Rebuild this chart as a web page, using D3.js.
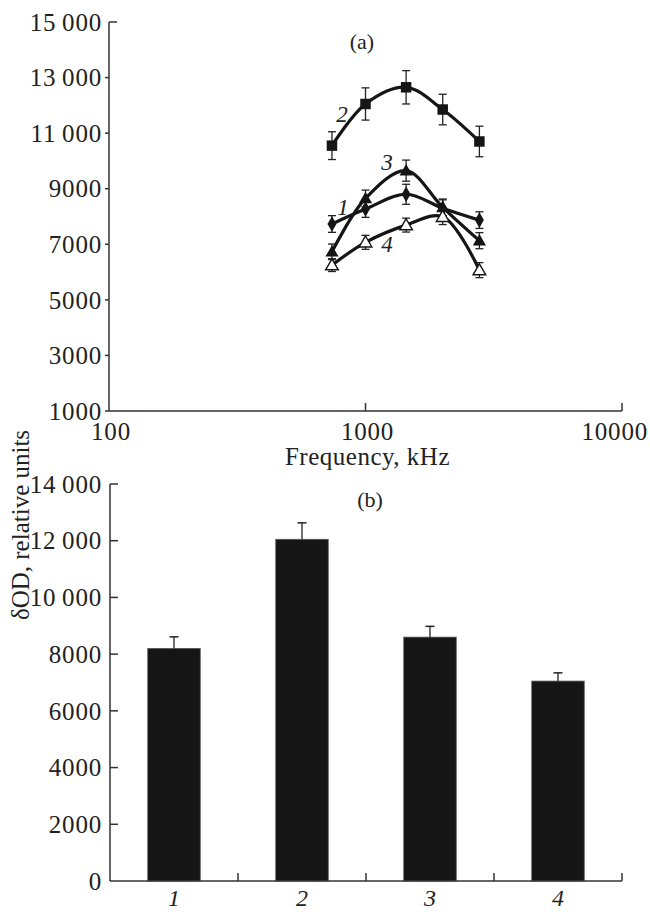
<!DOCTYPE html>
<html>
<head>
<meta charset="utf-8">
<script src="https://cdn.jsdelivr.net/npm/d3@7"></script>
<style>
  body { margin: 0; background: #fff; }
  svg text { font-family: "Liberation Serif", "Times New Roman", serif; fill: #222; }
</style>
</head>
<body>
<div id="chart"></div>
<script>
// panel (a): frequency dependence, 4 series
const freqs = [740, 1000, 1440, 2000, 2780];
const series1 = [7730, 8270, 8800, 8300, 7870];
const err1 = [300, 300, 360, 300, 300];
const series2 = [10550, 12050, 12650, 11850, 10700];
const err2 = [500, 580, 600, 550, 550];
const series3 = [6730, 8650, 9650, 8330, 7130];
const err3 = [280, 300, 380, 300, 290];
const series4 = [6250, 7070, 7690, 7990, 6070];
const err4 = [230, 250, 250, 280, 270];
const topYTicks = [1000, 3000, 5000, 7000, 9000, 11000, 13000, 15000];
const topXTicks = [100, 1000, 10000];
const curveLabels = [
    { text: "2", f: 810, v: 11400 },
    { text: "3", f: 1213, v: 9670 },
    { text: "1", f: 817, v: 8050 },
    { text: "4", f: 1213, v: 6720 }
];

// panel (b): bars
const barLabels = ["1", "2", "3", "4"];
const barValues = [8200, 12050, 8600, 7050];
const barErrors = [410, 580, 380, 290];
const botYTicks = [0, 2000, 4000, 6000, 8000, 10000, 12000, 14000];

const W = 650, H = 912;
const ink = "#151515";
const axisColor = "#333";
const fontSize = "25px";

const fmt = v => {
    const s = String(v);
    return s.length > 4 ? s.slice(0, s.length - 3) + "\u2009" + s.slice(-3) : s;
};

const svg = d3.select("#chart").append("svg")
    .attr("width", W)
    .attr("height", H);

// ---------- panel (a) ----------
const xA = d3.scaleLog().domain([100, 10000]).range([109, 622]);
const yA = d3.scaleLinear().domain([1000, 15000]).range([411, 22]);

const gA = svg.append("g");

// axes lines
gA.append("line")
    .attr("x1", xA(100)).attr("x2", xA(100))
    .attr("y1", yA(15000)).attr("y2", yA(1000))
    .attr("stroke", axisColor).attr("stroke-width", 1.5);
gA.append("line")
    .attr("x1", xA(100)).attr("x2", xA(10000))
    .attr("y1", yA(1000)).attr("y2", yA(1000))
    .attr("stroke", axisColor).attr("stroke-width", 1.5);

// y ticks
gA.selectAll(".ytick").data(topYTicks).enter().append("line")
    .attr("x1", d => d === 15000 ? xA(100) + 8 : xA(100) - 4)
    .attr("x2", xA(100))
    .attr("y1", d => yA(d)).attr("y2", d => yA(d))
    .attr("stroke", axisColor).attr("stroke-width", 1.5);
gA.selectAll(".ylab").data(topYTicks).enter().append("text")
    .attr("x", xA(100) - 7)
    .attr("y", d => yA(d))
    .attr("dy", "0.35em")
    .attr("text-anchor", "end")
    .style("font-size", fontSize)
    .style("letter-spacing", "0.8px")
    .text(fmt);

// x ticks (inward)
gA.selectAll(".xtick").data(topXTicks.slice(1)).enter().append("line")
    .attr("x1", d => xA(d)).attr("x2", d => xA(d))
    .attr("y1", yA(1000)).attr("y2", yA(1000) - 8)
    .attr("stroke", axisColor).attr("stroke-width", 1.5);
gA.selectAll(".xlab").data(topXTicks).enter().append("text")
    .attr("x", (d, i) => i === topXTicks.length - 1 ? 648 : xA(d) + 2)
    .attr("y", 440)
    .attr("text-anchor", (d, i) => i === topXTicks.length - 1 ? "end" : "middle")
    .style("font-size", fontSize)
    .style("letter-spacing", "0.8px")
    .text(d => String(d));

gA.append("text")
    .attr("x", (xA.range()[0] + xA.range()[1]) / 2 + 2)
    .attr("y", 465)
    .attr("text-anchor", "middle")
    .style("font-size", fontSize)
    .style("letter-spacing", "0.5px")
    .text("Frequency, kHz");

gA.append("text")
    .attr("x", 362)
    .attr("y", 49)
    .attr("text-anchor", "middle")
    .style("font-size", "22px")
    .text("(a)");

const seriesList = [
    { vals: series1, errs: err1, marker: "diamond" },
    { vals: series2, errs: err2, marker: "square" },
    { vals: series3, errs: err3, marker: "triangle" },
    { vals: series4, errs: err4, marker: "open" }
];

const line = d3.line()
    .x(d => xA(d.f))
    .y(d => yA(d.v))
    .curve(d3.curveCatmullRom.alpha(0.5));

const symbols = {
    diamond: d3.symbol().type(d3.symbolDiamond).size(70),
    square: d3.symbol().type(d3.symbolSquare).size(110),
    triangle: d3.symbol().type(d3.symbolTriangle).size(75),
    open: d3.symbol().type(d3.symbolTriangle).size(70)
};

seriesList.forEach(s => {
    const pts = freqs.map((f, i) => ({ f: f, v: s.vals[i], e: s.errs[i] }));

    // error bars
    const eb = gA.append("g");
    pts.forEach(p => {
        const x = xA(p.f);
        eb.append("line")
            .attr("x1", x).attr("x2", x)
            .attr("y1", yA(p.v - p.e)).attr("y2", yA(p.v + p.e))
            .attr("stroke", "#222").attr("stroke-width", 1.3);
        [p.v - p.e, p.v + p.e].forEach(v => {
            eb.append("line")
                .attr("x1", x - 4).attr("x2", x + 4)
                .attr("y1", yA(v)).attr("y2", yA(v))
                .attr("stroke", "#222").attr("stroke-width", 1.3);
        });
    });

    gA.append("path")
        .datum(pts)
        .attr("d", line)
        .attr("fill", "none")
        .attr("stroke", ink)
        .attr("stroke-width", 3.2);

    gA.selectAll(null).data(pts).enter().append("path")
        .attr("transform", d => `translate(${xA(d.f)},${yA(d.v) + (s.marker === "triangle" || s.marker === "open" ? 1 : 0)})`)
        .attr("d", symbols[s.marker])
        .attr("fill", s.marker === "open" ? "#fff" : ink)
        .attr("stroke", s.marker === "open" ? ink : "none")
        .attr("stroke-width", 1.4);
});

gA.selectAll(".clab").data(curveLabels).enter().append("text")
    .attr("x", d => xA(d.f))
    .attr("y", d => yA(d.v))
    .attr("text-anchor", "middle")
    .style("font-size", "23px")
    .style("font-style", "italic")
    .text(d => d.text);

// ---------- panel (b) ----------
const xB = d3.scaleBand()
    .domain(barLabels)
    .range([110, 622])
    .paddingInner(0.59)
    .paddingOuter(0.295);
const yB = d3.scaleLinear().domain([0, 14000]).range([881, 484]);

const gB = svg.append("g");

gB.selectAll(".bar").data(barLabels).enter().append("rect")
    .attr("x", d => xB(d))
    .attr("y", (d, i) => yB(barValues[i]))
    .attr("width", xB.bandwidth())
    .attr("height", (d, i) => yB(0) - yB(barValues[i]))
    .attr("fill", ink)
    .attr("stroke", "#555")
    .attr("stroke-width", 0.8);

// error bars (upward only)
barLabels.forEach((d, i) => {
    const cx = xB(d) + xB.bandwidth() / 2;
    gB.append("line")
        .attr("x1", cx).attr("x2", cx)
        .attr("y1", yB(barValues[i])).attr("y2", yB(barValues[i] + barErrors[i]))
        .attr("stroke", "#222").attr("stroke-width", 1.3);
    gB.append("line")
        .attr("x1", cx - 4.5).attr("x2", cx + 4.5)
        .attr("y1", yB(barValues[i] + barErrors[i])).attr("y2", yB(barValues[i] + barErrors[i]))
        .attr("stroke", "#222").attr("stroke-width", 1.5);
});

// axes
gB.append("line")
    .attr("x1", 110).attr("x2", 110)
    .attr("y1", yB(14000)).attr("y2", yB(0))
    .attr("stroke", axisColor).attr("stroke-width", 1.5);
gB.append("line")
    .attr("x1", 110).attr("x2", 622)
    .attr("y1", yB(0)).attr("y2", yB(0))
    .attr("stroke", axisColor).attr("stroke-width", 1.5);

gB.selectAll(".ytick").data(botYTicks.slice(1)).enter().append("line")
    .attr("x1", 110).attr("x2", 118)
    .attr("y1", d => yB(d)).attr("y2", d => yB(d))
    .attr("stroke", axisColor).attr("stroke-width", 1.5);
gB.selectAll(".ylab").data(botYTicks).enter().append("text")
    .attr("x", 102)
    .attr("y", d => yB(d))
    .attr("dy", "0.35em")
    .attr("text-anchor", "end")
    .style("font-size", fontSize)
    .style("letter-spacing", "0.8px")
    .text(fmt);

// x ticks at band boundaries
const bounds = barLabels.map((d, i) => xB.range()[0] + (i + 1) * (xB.range()[1] - xB.range()[0]) / barLabels.length);
gB.selectAll(".xtick").data(bounds).enter().append("line")
    .attr("x1", d => d).attr("x2", d => d)
    .attr("y1", yB(0)).attr("y2", yB(0) - 8)
    .attr("stroke", axisColor).attr("stroke-width", 1.5);

gB.selectAll(".xlab").data(barLabels).enter().append("text")
    .attr("x", d => xB(d) + xB.bandwidth() / 2)
    .attr("y", 906)
    .attr("text-anchor", "middle")
    .style("font-size", "24px")
    .style("font-style", "italic")
    .text(d => d);

gB.append("text")
    .attr("x", 370)
    .attr("y", 507)
    .attr("text-anchor", "middle")
    .style("font-size", "22px")
    .text("(b)");

// shared y label
svg.append("text")
    .attr("transform", "translate(20,525) rotate(-90)")
    .attr("dy", "0.35em")
    .attr("text-anchor", "middle")
    .style("font-size", fontSize)
    .text("δOD, relative units");
</script>
</body>
</html>
